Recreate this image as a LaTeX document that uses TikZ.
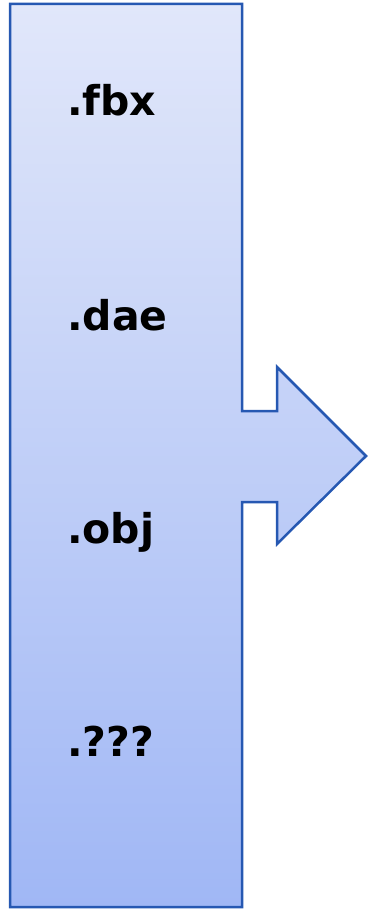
\documentclass[tikz,border=0pt]{standalone}
\usepackage{fontspec}
\setmainfont{DejaVu Sans}
\definecolor{boxtop}{RGB}{225,231,250}
\definecolor{boxbot}{RGB}{160,183,245}
\definecolor{boxline}{RGB}{38,88,178}
\tikzset{ext/.style={anchor=base west,inner sep=0pt,font=\fontsize{41}{45}\selectfont\bfseries}}

\begin{document}
\begin{tikzpicture}[x=1pt,y=-1pt]
	\useasboundingbox (0,0) rectangle (367,909);
	% box with arrow on the right
	\shade[top color=boxtop,bottom color=boxbot] (10,4) -- (242,4) -- (242,411) -- (277,411) -- (277,367) -- (366,456)
	-- (277,544) -- (277,502) -- (242,502) -- (242,907) -- (10,907) -- cycle;
	\draw[boxline,line width=2.5pt,line join=miter] (10,4) -- (242,4) -- (242,411) -- (277,411) -- (277,367) -- (366,456)
	-- (277,544) -- (277,502) -- (242,502) -- (242,907) -- (10,907) -- cycle;
	\node[ext] (fbx) at (67,116) {.fbx};
	\node[ext] (dae) at (67,330) {.dae};
	\node[ext] (obj) at (67,543) {.obj};
	\node[ext] (unk) at (67,756) {.???};
\end{tikzpicture}
\end{document}
